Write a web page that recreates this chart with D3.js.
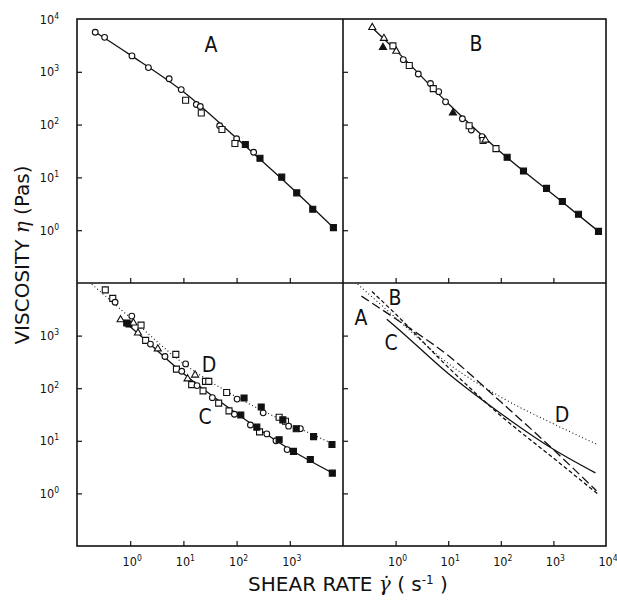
<!DOCTYPE html>
<html>
<head>
<meta charset="utf-8">
<script src="https://cdn.jsdelivr.net/npm/d3@7"></script>
<style>
  body { margin: 0; background: #fff; }
  text { font-family: "DejaVu Sans", sans-serif; fill: #111; }
  text.narrow { font-family: "DejaVu Sans Condensed", "DejaVu Sans", sans-serif; font-stretch: condensed; }
</style>
</head>
<body>
<svg id="chart" width="617" height="601"></svg>
<script>
// fitted curves, [shear rate (1/s), viscosity (Pa s)]
var curveA = [[0.224, 5620], [1, 2090], [10, 417], [100, 55], [1000, 6.8], [6600, 1.12]];
var curveB = [[0.355, 6900], [1, 2570], [10, 250], [100, 30], [1000, 4.7], [7200, 0.95]];
var curveC = [[0.68, 2050], [1, 1480], [10, 190], [100, 33], [1000, 6.9], [6300, 2.45]];
var curveD = [[0.19, 9500], [1, 2190], [10, 295], [100, 68], [1000, 21], [6900, 8.5]];

// sample A
var aCircles = [[0.22, 5600], [0.33, 4500], [1.08, 2000], [2.2, 1200], [5.4, 740], [9.1, 460],
                [17.5, 240], [20.8, 220], [48, 95], [100, 54], [209, 30]];
var aSquares = [[11, 290], [21.7, 166], [53, 81], [93, 44]];
var aFilled  = [[146, 42], [275, 23], [705, 10.1], [1350, 5.1], [2700, 2.5], [6600, 1.12]];

// sample B
var bTriangles = [[0.36, 6900], [0.6, 4300], [1.03, 2450], [51, 51]];
var bFilledTri = [[0.575, 2900], [12.3, 166]];
var bSquares   = [[0.89, 3100], [1.82, 1320], [5.2, 480], [25, 95], [46, 50], [81, 35]];
var bCircles   = [[1.4, 1700], [2.7, 910], [4.6, 600], [6.6, 420], [8.9, 270], [18.6, 129],
                  [27.5, 79], [44, 59]];
var bFilled    = [[132, 24], [270, 13.2], [740, 6.2], [1480, 3.5], [3000, 2.0], [7200, 0.95]];

// sample C
var cSquares   = [[1.95, 810], [7.4, 230], [14.3, 117], [23.4, 89], [46, 52], [72, 37], [270, 14.8]];
var cCircles   = [[2.4, 690], [4.5, 400], [9.3, 210], [18, 112], [35, 66], [91, 32], [182, 20],
                  [370, 13.5], [550, 10], [890, 6.8]];
var cTriangles = [[0.66, 2000], [1.4, 1120], [3.3, 560], [12, 151]];
var cFilled    = [[0.86, 1740], [0.95, 1660], [120, 31], [240, 18.2], [630, 10.5], [1170, 6.3],
                  [2430, 4.4], [6300, 2.43]];

// sample D
var dSquares   = [[0.34, 7400], [0.47, 5100], [1.6, 1580], [7.2, 440], [26, 135], [30, 135],
                  [65, 83], [630, 28], [830, 23.5]];
var dCircles   = [[0.52, 4300], [1.07, 2350], [11, 290], [102, 62], [316, 34], [950, 19], [1580, 17]];
var dTriangles = [[1.15, 1740], [16.6, 178]];
var dFilled    = [[138, 65], [290, 44], [740, 25], [1320, 17], [2800, 12], [6200, 8.5]];

var xTicks = [1, 10, 100, 1000];
var xTicksRight = [1, 10, 100, 1000, 10000];
var yTicks = [1, 10, 100, 1000];
var yTicksTop = [1, 10, 100, 1000, 10000];

var svg = d3.select('#chart');

var x0 = 77, xm = 343, x1 = 606;
var y0 = 19, ym = 283, y1 = 546;

var xL = d3.scaleLog().domain([0.1, 1e4]).range([x0, xm]);
var xR = d3.scaleLog().domain([0.1, 1e4]).range([xm, x1]);
var yT = d3.scaleLog().domain([0.1, 1e4]).range([ym, y0]);
var yB = d3.scaleLog().domain([0.1, 1e4]).range([y1, ym]);

var panels = [
    {x: xL, y: yT},
    {x: xR, y: yT},
    {x: xL, y: yB},
    {x: xR, y: yB}
];

// ticks pointing inward
panels.forEach(function(p) {
    var by = p.y.range()[0];
    var lx = p.x.range()[0];
    svg.append('g')
        .attr('transform', 'translate(0,' + by + ')')
        .call(d3.axisBottom(p.x).tickValues(xTicks).tickSizeInner(-5).tickSizeOuter(0).tickFormat(''))
        .call(function(g) { g.select('.domain').remove(); });
    svg.append('g')
        .attr('transform', 'translate(' + lx + ',0)')
        .call(d3.axisLeft(p.y).tickValues(yTicks).tickSizeInner(-5).tickSizeOuter(0).tickFormat(''))
        .call(function(g) { g.select('.domain').remove(); });
});
svg.selectAll('.tick line').attr('stroke', '#111').attr('stroke-width', 1.2);

// frame
var frame = svg.append('g').attr('fill', 'none').attr('stroke', '#111').attr('stroke-width', 1.6);
frame.append('rect').attr('x', x0).attr('y', y0).attr('width', x1 - x0).attr('height', y1 - y0);
frame.append('line').attr('x1', xm).attr('x2', xm).attr('y1', y0).attr('y2', y1);
frame.append('line').attr('x1', x0).attr('x2', x1).attr('y1', ym).attr('y2', ym);

function powLabel(sel, v) {
    var e = Math.round(Math.log10(v));
    sel.append('tspan').text('10');
    sel.append('tspan').attr('dy', -5).attr('font-size', 8.5).text(e);
}

// y tick labels
function yLabels(scale, vals) {
    vals.forEach(function(v) {
        svg.append('text').attr('class', 'narrow')
            .attr('x', 59).attr('y', scale(v) + 4.5)
            .attr('text-anchor', 'end').attr('font-size', 12.5)
            .call(powLabel, v);
    });
}
yLabels(yT, yTicksTop);
yLabels(yB, yTicks);

// x tick labels
function xLabels(scale, vals) {
    vals.forEach(function(v) {
        svg.append('text').attr('class', 'narrow')
            .attr('x', scale(v) + 2).attr('y', 566)
            .attr('text-anchor', 'middle').attr('font-size', 12.5)
            .call(powLabel, v);
    });
}
xLabels(xL, xTicks);
xLabels(xR, xTicksRight);

// axis titles
var xt = svg.append('text').attr('x', 348).attr('y', 591)
    .attr('text-anchor', 'middle').attr('font-size', 20);
xt.append('tspan').text('SHEAR RATE ');
xt.append('tspan').attr('font-family', 'DejaVu Serif').attr('font-style', 'italic').text('\u03b3\u0307');
xt.append('tspan').text('  ( s');
xt.append('tspan').attr('dy', -7).attr('font-size', 12).text('-1');
xt.append('tspan').attr('dy', 7).text(' )');

var yt = svg.append('text').attr('transform', 'translate(29,255) rotate(-90)')
    .attr('text-anchor', 'middle').attr('font-size', 20);
yt.append('tspan').text('VISCOSITY ');
yt.append('tspan').attr('font-family', 'DejaVu Serif').attr('font-style', 'italic').text('\u03b7');
yt.append('tspan').text(' (Pas)');

// curves
function drawCurve(p, data, dash) {
    var line = d3.line()
        .x(function(d) { return p.x(d[0]); })
        .y(function(d) { return p.y(d[1]); })
        .curve(d3.curveMonotoneX);
    svg.append('path').datum(data)
        .attr('d', line)
        .attr('fill', 'none')
        .attr('stroke', '#111')
        .attr('stroke-width', dash === dotted ? 1.1 : 1.3)
        .attr('stroke-dasharray', dash || null);
}

var solid = null, longDash = '9,4', shortDash = '4,2.5', dotted = '1,2.6';

drawCurve(panels[0], curveA, solid);
drawCurve(panels[1], curveB, solid);
drawCurve(panels[2], curveC, solid);
drawCurve(panels[2], curveD, dotted);
drawCurve(panels[3], curveA, longDash);
drawCurve(panels[3], curveB, shortDash);
drawCurve(panels[3], curveC, solid);
drawCurve(panels[3], curveD, dotted);

// markers
var shapes = {
    circle: d3.symbol().type(d3.symbolCircle).size(26),
    square: d3.symbol().type(d3.symbolSquare).size(36),
    triangle: d3.symbol().type(d3.symbolTriangle).size(22)
};
function drawMarkers(p, data, shape, filled) {
    svg.append('g').selectAll('path')
        .data(data)
        .enter().append('path')
            .attr('transform', function(d) { return 'translate(' + p.x(d[0]) + ',' + p.y(d[1]) + ')'; })
            .attr('d', shapes[shape])
            .attr('fill', filled ? '#111' : '#fff')
            .attr('stroke', '#111')
            .attr('stroke-width', 1.1);
}

drawMarkers(panels[0], aCircles, 'circle');
drawMarkers(panels[0], aSquares, 'square');
drawMarkers(panels[0], aFilled, 'square', true);

drawMarkers(panels[1], bCircles, 'circle');
drawMarkers(panels[1], bSquares, 'square');
drawMarkers(panels[1], bTriangles, 'triangle');
drawMarkers(panels[1], bFilledTri, 'triangle', true);
drawMarkers(panels[1], bFilled, 'square', true);

drawMarkers(panels[2], cSquares, 'square');
drawMarkers(panels[2], cCircles, 'circle');
drawMarkers(panels[2], cTriangles, 'triangle');
drawMarkers(panels[2], cFilled, 'square', true);
drawMarkers(panels[2], dSquares, 'square');
drawMarkers(panels[2], dCircles, 'circle');
drawMarkers(panels[2], dTriangles, 'triangle');
drawMarkers(panels[2], dFilled, 'square', true);

// panel letters
var letters = [
    {t: 'A', x: 211, y: 52},
    {t: 'B', x: 476, y: 51},
    {t: 'D', x: 209, y: 372},
    {t: 'C', x: 205, y: 424},
    {t: 'A', x: 361, y: 325},
    {t: 'B', x: 395, y: 305},
    {t: 'C', x: 391, y: 350},
    {t: 'D', x: 562, y: 422}
];
svg.append('g').selectAll('text')
    .data(letters)
    .enter().append('text')
        .attr('class', 'narrow')
        .attr('x', function(d) { return d.x; })
        .attr('y', function(d) { return d.y; })
        .attr('text-anchor', 'middle')
        .attr('font-size', 21)
        .text(function(d) { return d.t; });
</script>
</body>
</html>
